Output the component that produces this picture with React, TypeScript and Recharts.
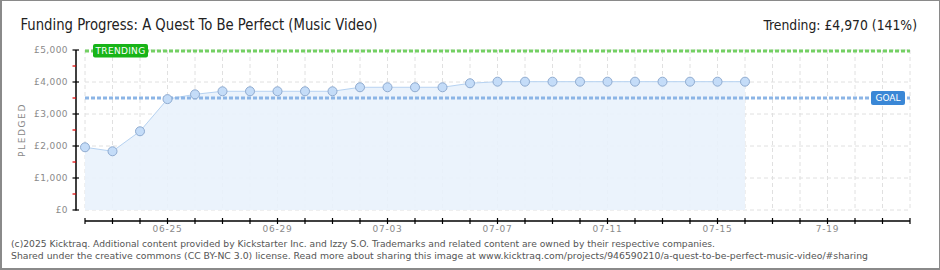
import React from 'react';
import { ComposedChart, Area, XAxis, YAxis, CartesianGrid, ReferenceLine } from 'recharts';

// ---- data ----
const dates = [
  '06-22', '06-23', '06-24', '06-25', '06-26', '06-27', '06-28', '06-29', '06-30',
  '07-01', '07-02', '07-03', '07-04', '07-05', '07-06', '07-07', '07-08', '07-09',
  '07-10', '07-11', '07-12', '07-13', '07-14', '07-15', '07-16', '07-17', '07-18',
  '07-19', '07-20', '07-21', '07-22',
];
const pledged = [
  1960, 1835, 2460, 3465, 3615, 3710, 3710, 3710, 3710, 3710, 3835, 3835, 3835,
  3835, 3960, 4010, 4010, 4010, 4010, 4010, 4010, 4010, 4010, 4010, 4010,
];
const xTickLabels = ['06-25', '06-29', '07-03', '07-07', '07-11', '07-15', '7-19'];
const yTicks = [0, 500, 1000, 1500, 2000, 2500, 3000, 3500, 4000, 4500, 5000];
const yGridValues = [0, 1000, 2000, 3000, 4000, 5000];
const goal = 3500;
const trending = 4970;

const titleText = 'Funding Progress: A Quest To Be Perfect (Music Video)';
const trendingText = 'Trending: £4,970 (141%)';
const footerLine1 =
  '(c)2025 Kicktraq. Additional content provided by Kickstarter Inc. and Izzy S.O. Trademarks and related content are owned by their respective companies.';
const footerLine2 =
  'Shared under the creative commons (CC BY-NC 3.0) license. Read more about sharing this image at www.kicktraq.com/projects/946590210/a-quest-to-be-perfect-music-video/#sharing';

const data = dates.map((d, i) => ({ date: d, pledged: i < pledged.length ? pledged[i] : null }));

// ---- layout ----
const W = 940;
const H = 270;
const MARGIN = { top: 50, right: 30, bottom: 30, left: 25 };
const Y_AXIS_W = 60;
const X_AXIS_H = 30;
const PLOT_W = W - MARGIN.left - MARGIN.right - Y_AXIS_W;
const PLOT_H = H - MARGIN.top - MARGIN.bottom - X_AXIS_H;

const axisFont = "'DejaVu Sans', sans-serif";
const labelGray = '#8a8a8a';
const headFont = "'DejaVu Sans Condensed', 'DejaVu Sans', sans-serif";

const fmtMoney = (v: number) => '£' + v.toLocaleString('en-US');

const YTick = (props: any) => {
  const { x, y, payload, index } = props;
  const v = payload.value as number;
  const major = v % 1000 === 0;
  const ax = x - 9;
  const h = typeof props.height === 'number' ? props.height : PLOT_H;
  return (
    <g>
      {index === 0 && (
        <line x1={ax} x2={ax} y1={y + 0.5} y2={y - h} stroke="#000" strokeWidth={1.5} />
      )}
      {major ? (
        <line x1={ax - 3.5} x2={ax + 3} y1={y} y2={y} stroke="#000" strokeWidth={1.2} />
      ) : (
        <line x1={ax - 3.5} x2={ax} y1={y} y2={y} stroke="#e00000" strokeWidth={1.2} />
      )}
      {major && (
        <text
          x={ax - 8}
          y={y + 3.2}
          textAnchor="end"
          fontFamily={axisFont}
          fontSize={9}
          letterSpacing={0.4}
          fill={labelGray}
        >
          {fmtMoney(v)}
        </text>
      )}
    </g>
  );
};

const XTick = (props: any) => {
  const { x, y, payload, index } = props;
  const d = payload.value as string;
  const label = xTickLabels.find((l) => l === d || '0' + l === d);
  const w = typeof props.width === 'number' ? props.width : PLOT_W;
  const ay = y + 11;
  return (
    <g>
      {index === 0 && <line x1={x} x2={x + w} y1={ay} y2={ay} stroke="#000" strokeWidth={1.5} />}
      <line x1={x} x2={x} y1={ay - 3} y2={ay + 3} stroke="#000" strokeWidth={1.2} />
      {label && (
        <text
          x={x}
          y={ay + 10.5}
          textAnchor="middle"
          fontFamily={axisFont}
          fontSize={9}
          letterSpacing={0.8}
          fill={labelGray}
        >
          {label}
        </text>
      )}
    </g>
  );
};

const TrendingTag = (props: any) => {
  const vb = props.viewBox || {};
  const x = vb.x + 8;
  const y = vb.y - 7;
  return (
    <g>
      <rect x={x} y={y} width={55} height={13.5} rx={2} fill="#18b418" />
      <text
        x={x + 27.5}
        y={y + 10.2}
        textAnchor="middle"
        fontFamily={axisFont}
        fontSize={9}
        letterSpacing={0.3}
        fill="#ffffff"
      >
        TRENDING
      </text>
    </g>
  );
};

const GoalTag = (props: any) => {
  const vb = props.viewBox || {};
  const x = vb.x + vb.width - 39;
  const y = vb.y - 7;
  return (
    <g>
      <rect x={x} y={y} width={34} height={14} rx={2} fill="#3a87d6" />
      <text
        x={x + 17}
        y={y + 10.4}
        textAnchor="middle"
        fontFamily={axisFont}
        fontSize={9}
        fill="#ffffff"
      >
        GOAL
      </text>
    </g>
  );
};

export default function App() {
  return (
    <div style={{ position: 'absolute', left: 0, top: 0, width: W, height: H, background: '#fff' }}>
      <ComposedChart width={W} height={H} data={data} margin={MARGIN}>
        <CartesianGrid
          stroke="#e0e0e0"
          strokeDasharray="4 3"
          horizontalValues={yGridValues}
        />
        <XAxis
          dataKey="date"
          scale="point"
          height={X_AXIS_H}
          interval={0}
          axisLine={false}
          tickLine={false}
          tickSize={0}
          tickMargin={0}
          tick={<XTick />}
        />
        <YAxis
          type="number"
          domain={[0, 5000]}
          ticks={yTicks}
          interval={0}
          width={Y_AXIS_W}
          axisLine={false}
          tickLine={false}
          tickSize={0}
          tickMargin={0}
          tick={<YTick />}
        />
        <Area
          type="linear"
          dataKey="pledged"
          stroke="#b6d2f1"
          strokeWidth={1}
          fill="#e9f2fc"
          fillOpacity={0.9}
          isAnimationActive={false}
          dot={{ r: 4.5, fill: '#c4dcf8', stroke: '#8fabd0', strokeWidth: 1, fillOpacity: 1 }}
          activeDot={false}
        />
        <ReferenceLine
          y={goal}
          stroke="#8cb5e6"
          strokeWidth={3}
          strokeDasharray="4 2"
          label={<GoalTag />}
        />
        <ReferenceLine
          y={trending}
          stroke="#74d064"
          strokeWidth={3}
          strokeDasharray="4 2"
          label={<TrendingTag />}
        />
      </ComposedChart>
      <svg
        width={W}
        height={H}
        style={{ position: 'absolute', left: 0, top: 0, pointerEvents: 'none' }}
      >
        <text
          x={20.5}
          y={30}
          fontFamily={headFont}
          fontSize={16}
          textLength={357}
          lengthAdjust="spacingAndGlyphs"
          fill="#222"
        >
          {titleText}
        </text>
        <text
          x={917}
          y={30}
          textAnchor="end"
          fontFamily={headFont}
          fontSize={13.8}
          fill="#222"
        >
          {trendingText}
        </text>
        <text
          x={21.5}
          y={130}
          transform="rotate(-90 21.5 130)"
          textAnchor="middle"
          dominantBaseline="central"
          fontFamily={axisFont}
          fontSize={9}
          letterSpacing={1.6}
          fill="#888"
        >
          PLEDGED
        </text>
        <text
          x={11}
          y={247}
          fontFamily="'DejaVu Sans', sans-serif"
          fontSize={8.8}
          textLength={704}
          lengthAdjust="spacingAndGlyphs"
          fill="#555"
        >
          {footerLine1}
        </text>
        <text
          x={11}
          y={259}
          fontFamily="'DejaVu Sans', sans-serif"
          fontSize={8.8}
          textLength={857}
          lengthAdjust="spacingAndGlyphs"
          fill="#555"
        >
          {footerLine2}
        </text>
      </svg>
      <div
        style={{
          position: 'absolute',
          left: 0,
          top: 0,
          width: W,
          height: H,
          boxSizing: 'border-box',
          borderTop: '1px solid #8a8a8a',
          borderRight: '1px solid #8a8a8a',
          borderBottom: '2px solid #8a8a8a',
          borderLeft: '2px solid #8a8a8a',
          pointerEvents: 'none',
        }}
      />
    </div>
  );
}
